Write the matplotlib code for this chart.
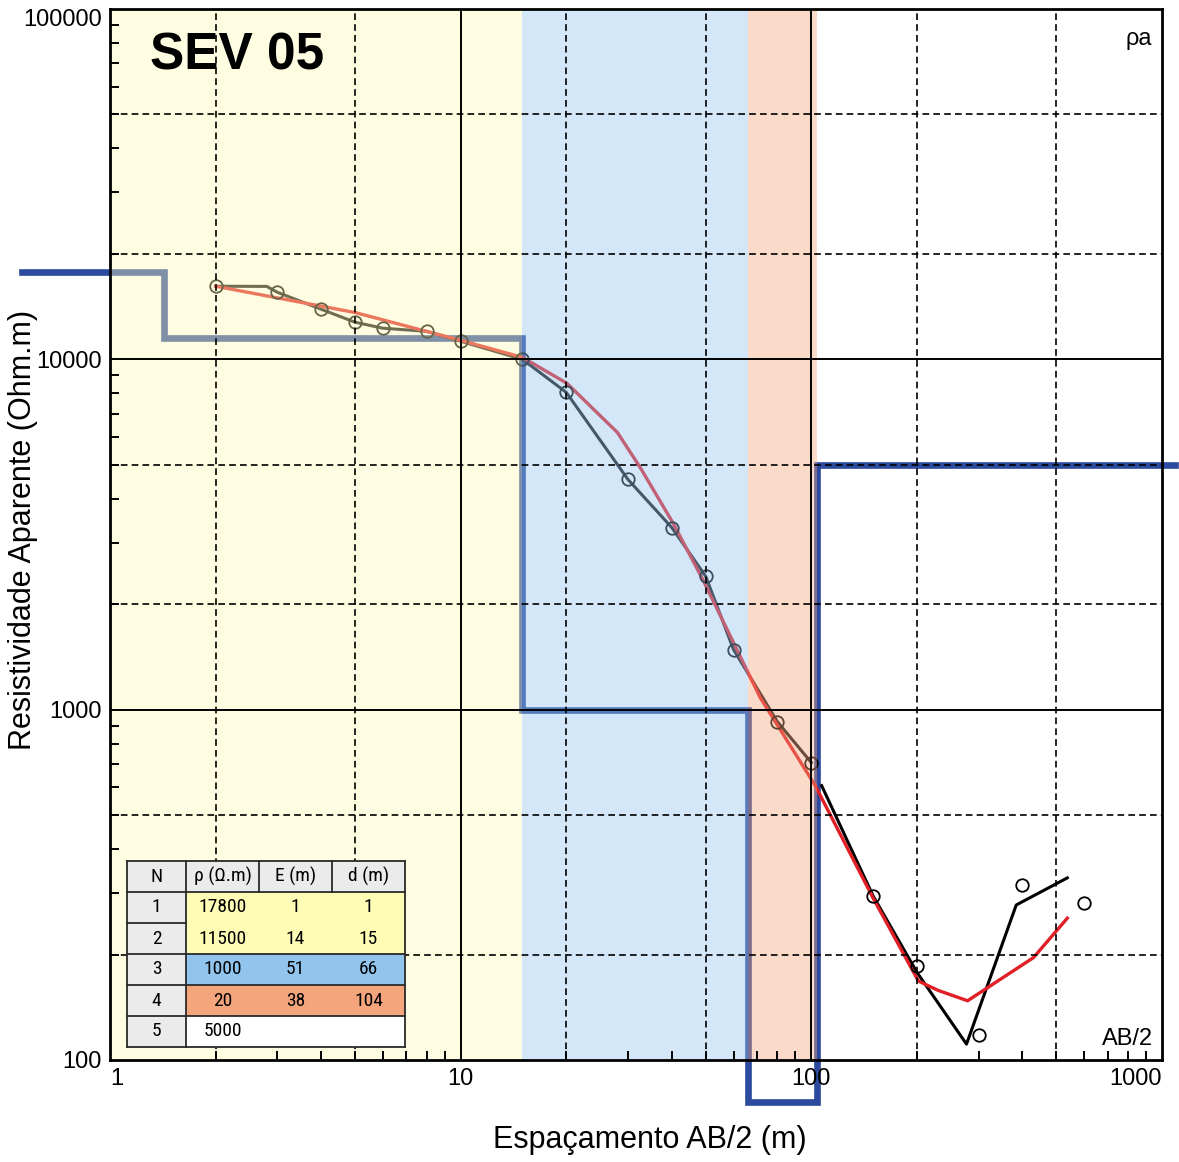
import numpy as np
import matplotlib
matplotlib.use("Agg")
import matplotlib.pyplot as plt
from matplotlib import font_manager
from matplotlib.ticker import LogLocator, NullFormatter

plt.rcParams["font.family"] = ["Liberation Sans", "DejaVu Sans"]

# measured points: AB/2 (m) and apparent resistivity (ohm.m)
ab2 = [2, 3, 4, 5, 6, 8, 10, 15, 20, 30, 40, 50, 60, 80, 100, 150, 200, 300, 400, 600]
rho_a = [16170, 15540, 13900, 12760, 12270, 12020, 11260, 10000, 8050, 4540,
         3310, 2400, 1484, 924, 706, 294, 186, 118, 316, 281]

# field curve up to 100 m
field_ab2 = [2, 2.8, 3, 4, 5, 6, 8, 10, 15, 20, 30, 40, 50, 60, 80, 100]
field_rho = [16170, 16150, 15540, 13900, 12760, 12270, 12020, 11260, 10000, 8050,
             4540, 3310, 2400, 1484, 924, 706]

# field curve past 100 m
tail_ab2 = [107, 150, 200, 277, 384, 537]
tail_rho = [607, 294, 178, 111, 277, 331]

# calculated response of the layered model
calc_ab2 = [2, 5, 10, 15, 20.1, 28, 32.5, 40.4, 49.2, 71.5, 102.6, 150, 202, 230, 279, 430, 537]
calc_rho = [16170, 13600, 11330, 10130, 8540, 6180, 4914, 3400, 2336, 1082, 607, 290,
            168, 158, 147.6, 196, 254]

# layered model
layer_n = [1, 2, 3, 4, 5]
layer_rho = [17800, 11500, 1000, 20, 5000]
layer_e = [1, 14, 51, 38]
layer_d = [1, 15, 66, 104]
layer_colors = ["#fffcb5", "#fffcb5", "#92c5ee", "#f4a57c", "#ffffff"]

# model step line runs past the frame on both sides
step_edges = [0.56, 1.43, 15, 66, 104, 1090]
STEP_FLOOR = 76

fig = plt.figure(figsize=(11.79, 11.62), dpi=100)
ax = fig.add_axes([110 / 1179, 1 - 1060 / 1162, 1052 / 1179, 1051 / 1162])
ax.set_xscale("log")
ax.set_yscale("log")
ax.set_xlim(1, 1000)
ax.set_ylim(100, 100000)
ax.set_axisbelow(False)

# layer bands, laid over the curves
prev = 0.5
for d, c in zip(layer_d, layer_colors):
    ax.axvspan(prev, d, color=c, alpha=0.4, lw=0, zorder=1.5)
    prev = d

xs = np.repeat(step_edges, 2)[1:-1]
ys = np.repeat(np.maximum(layer_rho, STEP_FLOOR), 2)
ax.plot(xs, ys, color="#2c4b9e", lw=4.8, clip_on=False, zorder=1.0,
        solid_joinstyle="miter")

ax.plot(field_ab2, field_rho, color="#111111", lw=2.2, zorder=1.1)
ax.plot(tail_ab2, tail_rho, color="black", lw=2.2, zorder=1.1)
ax.plot(calc_ab2, calc_rho, color="#e11f26", lw=2.4, zorder=1.2)
ax.plot(ab2, rho_a, ls="none", marker="o", ms=9, mfc="none", mec="black",
        mew=1.3, zorder=1.3)

# grid: solid decades, dashed at 2 and 5
for v in [10, 100]:
    ax.axvline(v, color="black", lw=1.4, zorder=2.5)
for v in [1000, 10000]:
    ax.axhline(v, color="black", lw=1.4, zorder=2.5)
for v in [2, 5, 20, 50, 200, 500]:
    ax.axvline(v, color="black", lw=1.2, ls=(0, (4, 2.5)), zorder=2.5)
for v in [200, 500, 2000, 5000, 20000, 50000]:
    ax.axhline(v, color="black", lw=1.2, ls=(0, (4, 2.5)), zorder=2.5)

for s in ax.spines.values():
    s.set_linewidth(2.0)
    s.set_zorder(3)

ax.set_xticks([1, 10, 100, 1000])
ax.set_xticklabels(["1", "10", "100", "1000"])
ax.set_yticks([100, 1000, 10000, 100000])
ax.set_yticklabels(["100", "1000", "10000", "100000"])
xl = ax.get_xticklabels()
xl[0].set_ha("left")
xl[-1].set_ha("right")
ax.get_yticklabels()[-1].set_va("top")
for axis in (ax.xaxis, ax.yaxis):
    axis.set_minor_locator(LogLocator(base=10, subs=np.arange(2, 10)))
    axis.set_minor_formatter(NullFormatter())
ax.tick_params(which="major", length=0, labelsize=17, pad=6)
ax.tick_params(which="minor", direction="in", length=6.5, width=1.4,
               top=False, right=False)

fig.text(650 / 1179, 1 - 1140 / 1162, "Espaçamento AB/2 (m)", fontsize=22,
         ha="center", va="center")
fig.text(23 / 1179, 1 - 530 / 1162, "Resistividade Aparente (Ohm.m)", fontsize=22,
         rotation=90, ha="center", va="center")

fig.text(150 / 1179, 1 - 70 / 1162, "SEV 05", fontsize=37, fontweight="bold",
         ha="left", va="baseline", zorder=6)
fig.text(1152 / 1179, 1 - 45 / 1162, "ρa", fontsize=17, ha="right", va="baseline")
fig.text(1153 / 1179, 1 - 1045 / 1162, "AB/2", fontsize=17, ha="right", va="baseline")

# layer table
names = {f.name for f in font_manager.fontManager.ttflist}
narrow = None
for cand in ["Liberation Sans Narrow", "Roboto Condensed", "Open Sans Condensed"]:
    if cand in names:
        narrow = cand
        break

cell_text = [["N", "ρ (Ω.m)", "E (m)", "d (m)"]]
cell_colors = [["#ebebeb"] * 4]
for i, n in enumerate(layer_n):
    e = str(layer_e[i]) if i < len(layer_e) else ""
    d = str(layer_d[i]) if i < len(layer_d) else ""
    cell_text.append([str(n), str(layer_rho[i]), e, d])
    cell_colors.append(["#ebebeb"] + [layer_colors[i]] * 3)

col_w = [59, 73, 73, 73]
tx0 = (127 - 110) / 1052
ty0 = (1060 - 1047) / 1051
tw = (405 - 127) / 1052
th = (1047 - 861) / 1051
tbl = ax.table(cellText=cell_text, cellColours=cell_colors,
               colWidths=col_w, cellLoc="center",
               bbox=[tx0, ty0, tw, th])
tbl.set_zorder(6)
tbl.auto_set_font_size(False)
tbl.set_fontsize(14 if narrow else 12)
for (r, c), cell in tbl.get_celld().items():
    cell.set_linewidth(0)
    if narrow:
        cell.get_text().set_fontfamily(narrow)

# table rules: no separators inside the data block except between layer groups
cx = tx0 + tw * np.concatenate([[0], np.cumsum(col_w)]) / sum(col_w)
nrows = len(cell_text)
ry = ty0 + th * (1 - np.arange(nrows + 1) / nrows)
rule = dict(color="#2a2a2a", lw=1.3, transform=ax.transAxes, clip_on=False,
            zorder=7, solid_capstyle="projecting")
for k in [0, 1, 3, 4, 5, 6]:
    ax.plot([cx[0], cx[-1]], [ry[k], ry[k]], **rule)
ax.plot([cx[0], cx[1]], [ry[2], ry[2]], **rule)
for k in [0, 1, 4]:
    ax.plot([cx[k], cx[k]], [ry[0], ry[-1]], **rule)
for k in [2, 3]:
    ax.plot([cx[k], cx[k]], [ry[0], ry[1]], **rule)

fig.savefig("out.png", dpi=100)
